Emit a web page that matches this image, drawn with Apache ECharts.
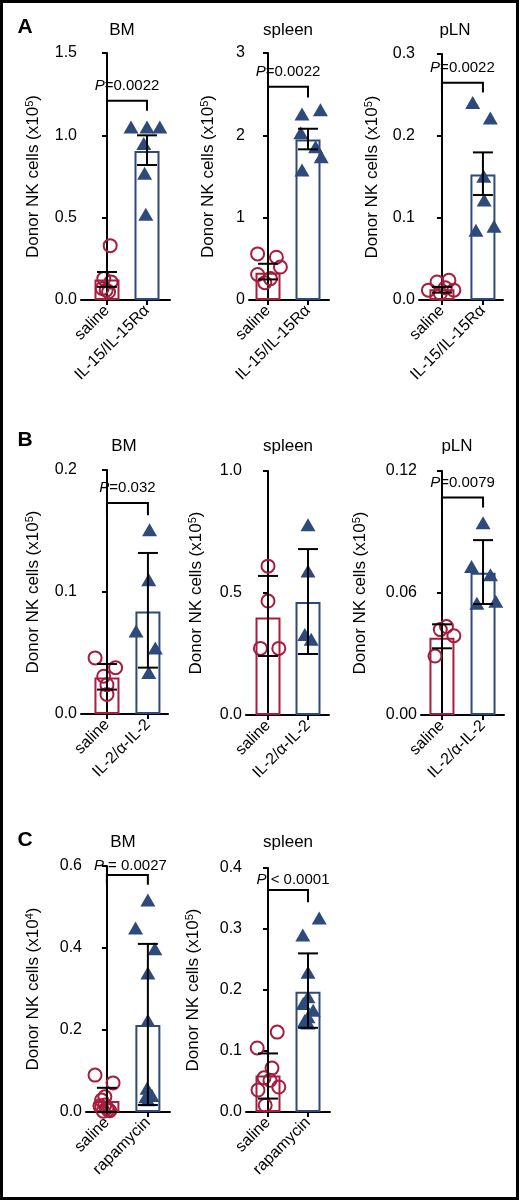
<!DOCTYPE html>
<html><head><meta charset="utf-8">
<script src="https://cdn.jsdelivr.net/npm/echarts@6/dist/echarts.min.js"></script>
<style>html,body{margin:0;padding:0;background:#fff}#c{width:520px;height:1201px}</style>
</head><body><div id="c"></div>
<script>
// ---------- data ----------
const catsA = ['saline', 'IL-15/IL-15Rα'];
const catsB = ['saline', 'IL-2/α-IL-2'];
const catsC = ['saline', 'rapamycin'];

// Panel A - BM
const aBmSal = [0.33, 0.13, 0.11, 0.07, 0.05, 0.06];
const aBmSalJ = [0.08, -0.08, 0.1, -0.12, 0.04, -0.02];
const aBmTx = [1.05, 1.05, 1.05, 0.95, 0.77, 0.52];
const aBmTxJ = [-0.4, 0.0, 0.32, -0.08, -0.06, -0.03];
const aBmBar = [0.125, 0.905];
const aBmErr = [[0.08, 0.17], [0.82, 1.0]];
const aBmTicks = [0, 0.5, 1.0, 1.5];
const aBmBracket = [1.21, 1.15];
// Panel A - spleen
const aSpSal = [0.56, 0.52, 0.40, 0.31, 0.21, 0.26];
const aSpSalJ = [-0.26, 0.21, 0.31, -0.26, -0.08, 0.06];
const aSpTx = [2.26, 2.31, 2.03, 1.86, 1.74, 1.58];
const aSpTxJ = [-0.15, 0.31, -0.18, 0.19, 0.33, -0.15];
const aSpBar = [0.33, 1.95];
const aSpErr = [[0.25, 0.44], [1.83, 2.08]];
const aSpTicks = [0, 1, 2, 3];
const aSpBracket = [2.59, 2.46];
// Panel A - pLN
const aLnSal = [0.022, 0.024, 0.012, 0.012, 0.008, 0.015];
const aLnSalJ = [-0.12, 0.17, -0.33, 0.29, -0.04, 0.08];
const aLnTx = [0.241, 0.222, 0.151, 0.122, 0.085, 0.09];
const aLnTxJ = [-0.25, 0.18, 0.02, 0.03, -0.17, 0.27];
const aLnBar = [0.013, 0.153];
const aLnErr = [[0.009, 0.016], [0.128, 0.18]];
const aLnTicks = [0, 0.1, 0.2, 0.3];
const aLnBracket = [0.265, 0.253];
// Panel B - BM
const bBmSal = [0.046, 0.038, 0.031, 0.024, 0.016];
const bBmSalJ = [-0.29, 0.21, -0.08, 0.0, 0.0];
const bBmTx = [0.151, 0.110, 0.068, 0.054, 0.034];
const bBmTxJ = [0.04, 0.02, -0.29, 0.18, 0.02];
const bBmBar = [0.030, 0.084];
const bBmErr = [[0.020, 0.041], [0.038, 0.132]];
const bBmTicks = [0, 0.1, 0.2];
const bBmBracket = [0.173, 0.163];
// Panel B - spleen
const bSpSal = [0.61, 0.467, 0.273, 0.273];
const bSpSalJ = [0, 0, -0.19, 0.27];
const bSpTx = [0.78, 0.59, 0.33, 0.31];
const bSpTxJ = [0, 0, -0.08, 0.08];
const bSpBar = [0.40, 0.463];
const bSpErr = [[0.242, 0.57], [0.25, 0.68]];
const bSpTicks = [0, 0.5, 1.0];
// Panel B - pLN
const bLnSal = [0.0435, 0.042, 0.039, 0.029];
const bLnSalJ = [0.11, -0.04, 0.29, -0.17];
const bLnTx = [0.0946, 0.073, 0.069, 0.055, 0.056];
const bLnTxJ = [0, -0.28, 0.18, -0.15, 0.31];
const bLnBar = [0.038, 0.070];
const bLnErr = [[0.0328, 0.0446], [0.0546, 0.086]];
const bLnTicks = [0, 0.06, 0.12];
const bLnBracket = [0.107, 0.102];
// Panel C - BM
const cBmSal = [0.09, 0.071, 0.037, 0.029, 0.017, 0.01, 0.015, 0.005, 0.003, 0.002];
const cBmSalJ = [-0.29, 0.15, -0.05, -0.13, -0.05, 0, -0.17, 0.03, 0.07, -0.09];
const cBmTx = [0.517, 0.449, 0.398, 0.339, 0.224, 0.058, 0.046, 0.037, 0.04, 0.03];
const cBmTxJ = [0, -0.3, 0.17, 0, 0, -0.02, 0.05, -0.05, 0.1, 0];
const cBmBar = [0.027, 0.212];
const cBmErr = [[0.0, 0.059], [0.017, 0.41]];
const cBmTicks = [0, 0.2, 0.4, 0.6];
const cBmBracket = [0.578, 0.554];
// Panel C - spleen
const cSpSal = [0.131, 0.105, 0.072, 0.056, 0.036, 0.041, 0.011, 0.052];
const cSpSalJ = [0.23, -0.27, 0.1, -0.1, -0.25, 0.27, -0.07, 0.05];
const cSpTx = [0.318, 0.29, 0.229, 0.189, 0.178, 0.167, 0.156, 0.146, 0.15];
const cSpTxJ = [0.28, -0.13, 0, 0, -0.12, 0.13, 0, 0, -0.08];
const cSpBar = [0.06, 0.197];
const cSpErr = [[0.022, 0.096], [0.138, 0.26]];
const cSpTicks = [0, 0.1, 0.2, 0.3, 0.4];
const cSpBracket = [0.364, 0.344];

const panelTitles = ['BM', 'spleen', 'pLN', 'BM', 'spleen', 'pLN', 'BM', 'spleen'];
const panelLetters = ['A', 'B', 'C'];
const pLabels = ['=0.0022', '=0.0022', '=0.0022', '=0.032', null, '=0.0079', ' = 0.0027', ' < 0.0001'];
const yExponents = ['5', '5', '5', '5', '5', '5', '4', '5'];

// ---------- panel assembly ----------
const panels = [
  {cats: catsA, sal: aBmSal, salJ: aBmSalJ, tx: aBmTx, txJ: aBmTxJ, bar: aBmBar, err: aBmErr, ticks: aBmTicks, br: aBmBracket, dec: 1},
  {cats: catsA, sal: aSpSal, salJ: aSpSalJ, tx: aSpTx, txJ: aSpTxJ, bar: aSpBar, err: aSpErr, ticks: aSpTicks, br: aSpBracket, dec: 0},
  {cats: catsA, sal: aLnSal, salJ: aLnSalJ, tx: aLnTx, txJ: aLnTxJ, bar: aLnBar, err: aLnErr, ticks: aLnTicks, br: aLnBracket, dec: 1},
  {cats: catsB, sal: bBmSal, salJ: bBmSalJ, tx: bBmTx, txJ: bBmTxJ, bar: bBmBar, err: bBmErr, ticks: bBmTicks, br: bBmBracket, dec: 1},
  {cats: catsB, sal: bSpSal, salJ: bSpSalJ, tx: bSpTx, txJ: bSpTxJ, bar: bSpBar, err: bSpErr, ticks: bSpTicks, br: null, dec: 1},
  {cats: catsB, sal: bLnSal, salJ: bLnSalJ, tx: bLnTx, txJ: bLnTxJ, bar: bLnBar, err: bLnErr, ticks: bLnTicks, br: bLnBracket, dec: 2},
  {cats: catsC, sal: cBmSal, salJ: cBmSalJ, tx: cBmTx, txJ: cBmTxJ, bar: cBmBar, err: cBmErr, ticks: cBmTicks, br: cBmBracket, dec: 1},
  {cats: catsC, sal: cSpSal, salJ: cSpSalJ, tx: cSpTx, txJ: cSpTxJ, bar: cSpBar, err: cSpErr, ticks: cSpTicks, br: cSpBracket, dec: 1}
];

// ---------- layout (pixels) ----------
const layout = [
  {left: 81, width: 89, top: 53, height: 247, xmin: -0.65, xmax: 1.575, gap: 38, tx: 122, ty: 30, pdx: 0, pdy: 15},
  {left: 249, width: 80, top: 53, height: 247, xmin: -0.475, xmax: 1.525, gap: 31, tx: 288, ty: 30, pdx: 0, pdy: 15},
  {left: 419, width: 84, top: 54, height: 246, xmin: -0.56, xmax: 1.49, gap: 37, tx: 455, ty: 30, pdx: 0, pdy: 15},
  {left: 81, width: 87, top: 470, height: 244, xmin: -0.634, xmax: 1.49, gap: 38, tx: 124, ty: 446, pdx: 0, pdy: 15},
  {left: 246, width: 83, top: 471, height: 244, xmin: -0.55, xmax: 1.525, gap: 40, tx: 288, ty: 446, pdx: 0, pdy: 15},
  {left: 421, width: 83, top: 471, height: 244, xmin: -0.51, xmax: 1.51, gap: 51, tx: 457, ty: 446, pdx: 0, pdy: 15},
  {left: 86, width: 84, top: 866, height: 246, xmin: -0.51, xmax: 1.54, gap: 43, tx: 123, ty: 842, pdx: 3, pdy: 9},
  {left: 246, width: 84, top: 868, height: 244, xmin: -0.55, xmax: 1.55, gap: 43, tx: 288, ty: 842, pdx: 5, pdy: 10}
];
const letterPos = [[25, 27], [25, 440], [25, 840]];

const RED = '#a81c3d';
const BLUE = '#2d4a7a';
const FONT = 'Liberation Sans, Arial, Helvetica, sans-serif';

const grids = [], xAxes = [], yAxes = [], series = [], graphics = [];

panels.forEach((p, i) => {
  const L = layout[i];
  grids.push({left: L.left, top: L.top, width: L.width, height: L.height, containLabel: false, outerBoundsMode: 'none'});
  const cats = p.cats;
  xAxes.push({
    gridIndex: i, type: 'value', min: L.xmin, max: L.xmax,
    splitLine: {show: false},
    axisLine: {show: true, onZero: false, lineStyle: {color: '#000', width: 2}},
    axisTick: {show: true, customValues: [0, 1], length: 5, lineStyle: {color: '#000', width: 2}},
    axisLabel: {show: true, customValues: [0, 1], rotate: 45, fontSize: 16, color: '#000', fontFamily: FONT, margin: 8,
      formatter: v => cats[Math.round(v)]}
  });
  const t = p.ticks;
  yAxes.push({
    gridIndex: i, type: 'value', min: t[0], max: t[t.length - 1], interval: t[1] - t[0],
    splitLine: {show: false},
    axisLine: {show: true, lineStyle: {color: '#000', width: 2}},
    axisTick: {show: true, length: 5, lineStyle: {color: '#000', width: 2}},
    axisLabel: {fontSize: 16, color: '#000', fontFamily: FONT, margin: 4, formatter: v => v.toFixed(p.dec)},
    name: 'Donor NK cells (x10{sup|' + yExponents[i] + '})',
    nameLocation: 'middle', nameRotate: 90, nameGap: L.gap,
    nameTextStyle: {fontSize: 17, color: '#000', fontFamily: FONT,
      rich: {sup: {fontSize: 11, color: '#000', fontFamily: FONT, verticalAlign: 'top', padding: [0, 0, 8, 0]}}}
  });

  // bars
  series.push({
    type: 'bar', xAxisIndex: i, yAxisIndex: i, barWidth: 25, z: 1,
    data: p.bar.map((v, k) => ({value: [k, v], itemStyle: {color: 'rgba(255,255,255,0)', borderColor: k === 0 ? RED : BLUE, borderWidth: 2}})),
    silent: true
  });
  // saline points
  series.push({
    type: 'scatter', xAxisIndex: i, yAxisIndex: i, symbol: 'circle', symbolSize: 13, z: 3,
    itemStyle: {color: 'rgba(255,255,255,0)', borderColor: RED, borderWidth: 2, opacity: 1},
    data: p.sal.map((v, k) => [0 + p.salJ[k], v])
  });
  // treatment points
  series.push({
    type: 'scatter', xAxisIndex: i, yAxisIndex: i, symbol: 'triangle', symbolSize: [15, 13], z: 3,
    itemStyle: {color: BLUE, opacity: 1},
    data: p.tx.map((v, k) => [1 + p.txJ[k], v])
  });
  // error bars
  series.push({
    type: 'custom', xAxisIndex: i, yAxisIndex: i, z: 5,
    data: p.err.map((e, k) => [k, e[0], e[1]]),
    encode: {x: 0, y: [1, 2]},
    renderItem: (params, api) => {
      const lo = api.coord([api.value(0), api.value(1)]);
      const hi = api.coord([api.value(0), api.value(2)]);
      const w = 10;
      const st = {stroke: '#000', lineWidth: 2};
      return {type: 'group', children: [
        {type: 'line', shape: {x1: lo[0], y1: lo[1], x2: hi[0], y2: hi[1]}, style: st},
        {type: 'line', shape: {x1: lo[0] - w, y1: lo[1], x2: lo[0] + w, y2: lo[1]}, style: st},
        {type: 'line', shape: {x1: hi[0] - w, y1: hi[1], x2: hi[0] + w, y2: hi[1]}, style: st}
      ]};
    }
  });
  // bracket + P label
  if (p.br) {
    const lab = pLabels[i];
    series.push({
      type: 'custom', xAxisIndex: i, yAxisIndex: i, z: 6, clip: false,
      data: [[0, 1, p.br[0], p.br[1]]],
      encode: {x: [0, 1], y: [2, 3]},
      renderItem: (params, api) => {
        const a = api.coord([api.value(0), api.value(3)]);
        const b = api.coord([api.value(0), api.value(2)]);
        const c = api.coord([api.value(1), api.value(2)]);
        const d = api.coord([api.value(1), api.value(3)]);
        return {type: 'group', children: [
          {type: 'polyline', shape: {points: [a, b, c, d]}, style: {stroke: '#000', lineWidth: 2, fill: null}},
          {type: 'text', x: (b[0] + c[0]) / 2 + L.pdx, y: b[1] - L.pdy,
            style: {text: '{i|P}' + lab, align: 'center', verticalAlign: 'middle', fill: '#000',
              fontSize: 15, fontFamily: FONT,
              rich: {i: {fontStyle: 'italic', fontSize: 15, fontFamily: FONT, fill: '#000'}}}}
        ]};
      }
    });
  }
  graphics.push({type: 'text', x: L.tx, y: L.ty,
    style: {text: panelTitles[i], fontSize: 17, fontFamily: FONT, fill: '#000', align: 'center', verticalAlign: 'middle'}});
});

panelLetters.forEach((s, k) => {
  graphics.push({type: 'text', x: letterPos[k][0], y: letterPos[k][1],
    style: {text: s, fontSize: 21, fontWeight: 'bold', fontFamily: FONT, fill: '#000', align: 'center', verticalAlign: 'middle'}});
});
graphics.push({type: 'rect', shape: {x: 1.5, y: 1.5, width: 516, height: 1197}, style: {fill: null, stroke: '#000', lineWidth: 3}, z: 100});

const chart = echarts.init(document.getElementById('c'), null, {renderer: 'canvas'});
chart.setOption({
  animation: false,
  backgroundColor: '#fff',
  grid: grids, xAxis: xAxes, yAxis: yAxes, series: series, graphic: graphics
});
</script></body></html>
